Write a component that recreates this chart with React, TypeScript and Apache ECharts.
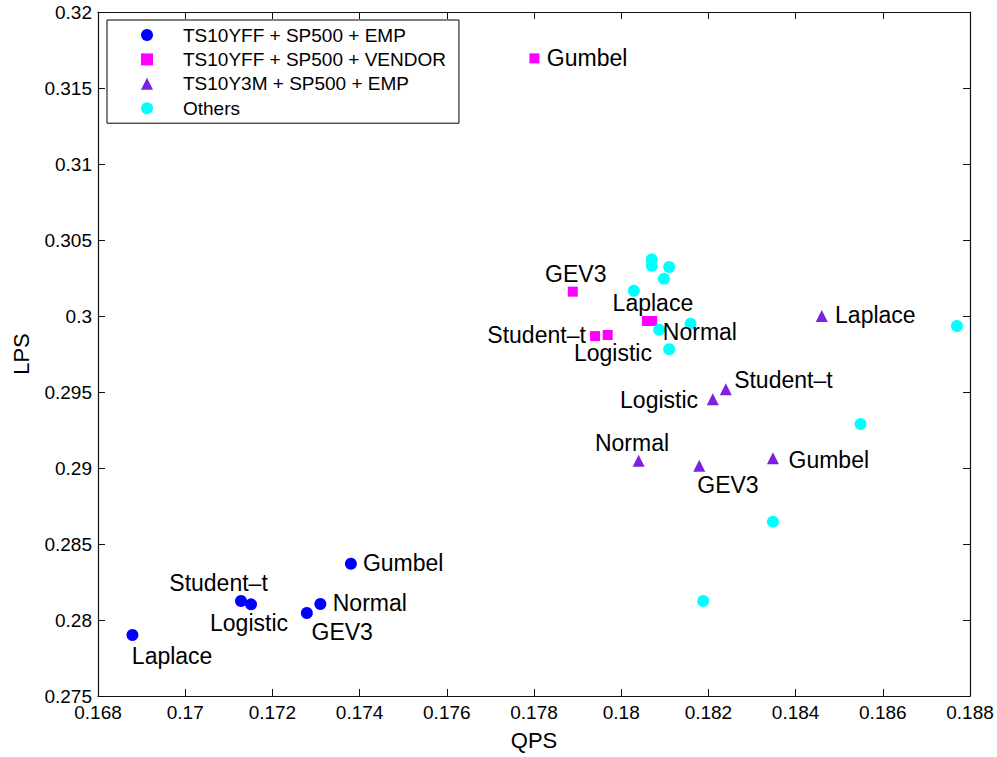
import React, { useEffect, useRef } from "react";
import * as echarts from "echarts";

// ---------- data ----------
const categories = [
  "TS10YFF + SP500 + EMP",
  "TS10YFF + SP500 + VENDOR",
  "TS10Y3M + SP500 + EMP",
  "Others",
];

const empNames = ["Laplace", "Student\u2013t", "Logistic", "GEV3", "Normal", "Gumbel"];
const empQPS = [0.16879, 0.17128, 0.17151, 0.17279, 0.1731, 0.1738];
const empLPS = [0.27901, 0.28125, 0.28103, 0.28046, 0.28105, 0.2837];

const vendorNames = ["Gumbel", "GEV3", "Student\u2013t", "Logistic", "Laplace", "Normal"];
const vendorQPS = [0.17801, 0.17889, 0.1794, 0.17969, 0.18059, 0.18071];
const vendorLPS = [0.31695, 0.3016, 0.29868, 0.29875, 0.29967, 0.29967];

const y3mNames = ["Laplace", "Student\u2013t", "Logistic", "Normal", "GEV3", "Gumbel"];
const y3mQPS = [0.1846, 0.1824, 0.1821, 0.1804, 0.18179, 0.18348];
const y3mLPS = [0.3, 0.29518, 0.29452, 0.29048, 0.29015, 0.29064];

const othersQPS = [
  0.1877, 0.18549, 0.18348, 0.18188, 0.1807, 0.1807, 0.1811, 0.18098, 0.18029, 0.18159,
  0.18087, 0.1811,
];
const othersLPS = [
  0.29934, 0.29289, 0.28647, 0.28125, 0.30372, 0.30331, 0.30322, 0.30245, 0.30166, 0.29949,
  0.2991, 0.29781,
];

const xTicks = [0.168, 0.17, 0.172, 0.174, 0.176, 0.178, 0.18, 0.182, 0.184, 0.186, 0.188];
const yTicks = [0.275, 0.28, 0.285, 0.29, 0.295, 0.3, 0.305, 0.31, 0.315, 0.32];

// ---------- layout (label placement: text-left / text-middle relative to marker centre, px) ----------
const empLabelAt = [
  [-0.6, 20.5],
  [-71.7, -17.7],
  [-41, 18.5],
  [4.7, 18.7],
  [12.4, -0.7],
  [12, -0.4],
];
const vendorLabelAt = [
  [12.4, 0],
  [-27.7, -17.5],
  [-107.7, -0.7],
  [-33.7, 17.8],
  [-34.3, -18.5],
  [10.7, 11],
];
const y3mLabelAt = [
  [13.3, -1],
  [8.3, -9.3],
  [-92.7, 0.7],
  [-43.7, -17.4],
  [-2, 19.3],
  [15.6, 1.7],
];

const FONT = "'Liberation Sans', Arial, Helvetica, sans-serif";
const COLORS = ["#0000ff", "#ff00ff", "#7f1fe0", "#00ffff"];

const r6 = (v: number) => Math.round(v * 1e6) / 1e6;

function makeData(qps: number[], lps: number[], names?: string[], at?: number[][], size = 12) {
  return qps.map((x, i) => {
    const item: any = { value: [x, lps[i]] };
    if (names && at) {
      item.name = names[i];
      item.label = {
        show: true,
        offset: [at[i][0] - size / 2, at[i][1]],
      };
    }
    return item;
  });
}

export default function App() {
  const ref = useRef<HTMLDivElement>(null);

  useEffect(() => {
    if (!ref.current) return;
    const chart = echarts.init(ref.current, undefined, { renderer: "svg" });

    const xMin = xTicks[0];
    const xMax = xTicks[xTicks.length - 1];
    const xInt = r6(xTicks[1] - xTicks[0]);
    const yMin = yTicks[0];
    const yMax = yTicks[yTicks.length - 1];
    const yInt = r6(yTicks[1] - yTicks[0]);

    const axisLine = { show: true, onZero: false, lineStyle: { color: "#111", width: 1.2 } };
    const axisTick = { show: true, inside: true, length: 7, lineStyle: { color: "#111", width: 1 } };
    const axisLabel = { fontSize: 19, color: "#000", fontFamily: FONT };

    const labelBase = {
      show: false,
      position: "right",
      distance: 0,
      align: "left",
      verticalAlign: "middle",
      formatter: "{b}",
      fontSize: 23,
      color: "#000",
      fontFamily: FONT,
    };

    const option: any = {
      animation: false,
      backgroundColor: "#fff",
      grid: { left: 98, right: 27, top: 12, bottom: 61, containLabel: false, outerBoundsMode: "none" },
      legend: {
        orient: "vertical",
        left: 107,
        top: 20,
        padding: [3, 13, 3, 34],
        itemGap: 0.4,
        itemWidth: 12,
        itemHeight: 12,
        backgroundColor: "#fff",
        borderColor: "#000",
        borderWidth: 1,
        borderRadius: 0,
        selectedMode: false,
        textStyle: {
          fontSize: 19,
          fontFamily: FONT,
          color: "#000",
          lineHeight: 24,
          padding: [0, 0, 0, 25],
        },
        data: categories,
      },
      xAxis: [
        {
          type: "value",
          position: "bottom",
          min: xMin,
          max: xMax,
          interval: xInt,
          name: "QPS",
          nameLocation: "middle",
          nameGap: 33,
          nameTextStyle: { fontSize: 22, color: "#000", fontFamily: FONT },
          axisLine,
          axisTick,
          axisLabel: { ...axisLabel, margin: 7 },
          splitLine: { show: false },
        },
        {
          type: "value",
          position: "top",
          min: xMin,
          max: xMax,
          interval: xInt,
          axisLine,
          axisTick,
          axisLabel: { show: false },
          splitLine: { show: false },
        },
      ],
      yAxis: [
        {
          type: "value",
          position: "left",
          min: yMin,
          max: yMax,
          interval: yInt,
          name: "LPS",
          nameLocation: "middle",
          nameGap: 66,
          nameTextStyle: { fontSize: 22, color: "#000", fontFamily: FONT },
          axisLine,
          axisTick,
          axisLabel: { ...axisLabel, margin: 6 },
          splitLine: { show: false },
        },
        {
          type: "value",
          position: "right",
          min: yMin,
          max: yMax,
          interval: yInt,
          axisLine,
          axisTick,
          axisLabel: { show: false },
          splitLine: { show: false },
        },
      ],
      series: [
        {
          name: categories[0],
          type: "scatter",
          symbol: "circle",
          symbolSize: 12,
          itemStyle: { color: COLORS[0], opacity: 1 },
          label: labelBase,
          silent: true,
          data: makeData(empQPS, empLPS, empNames, empLabelAt, 12),
        },
        {
          name: categories[1],
          type: "scatter",
          symbol: "rect",
          symbolSize: 10,
          itemStyle: { color: COLORS[1], opacity: 1 },
          label: labelBase,
          silent: true,
          data: makeData(vendorQPS, vendorLPS, vendorNames, vendorLabelAt, 10),
        },
        {
          name: categories[2],
          type: "scatter",
          symbol: "triangle",
          symbolSize: 12,
          itemStyle: { color: COLORS[2], opacity: 1 },
          label: labelBase,
          silent: true,
          data: makeData(y3mQPS, y3mLPS, y3mNames, y3mLabelAt, 12),
        },
        {
          name: categories[3],
          type: "scatter",
          symbol: "circle",
          symbolSize: 12,
          itemStyle: { color: COLORS[3], opacity: 1 },
          silent: true,
          data: makeData(othersQPS, othersLPS),
        },
      ],
    };

    chart.setOption(option);
    return () => chart.dispose();
  }, []);

  return (
    <div
      ref={ref}
      style={{ position: "fixed", left: 0, top: 0, width: 997, height: 757, background: "#fff" }}
    />
  );
}
